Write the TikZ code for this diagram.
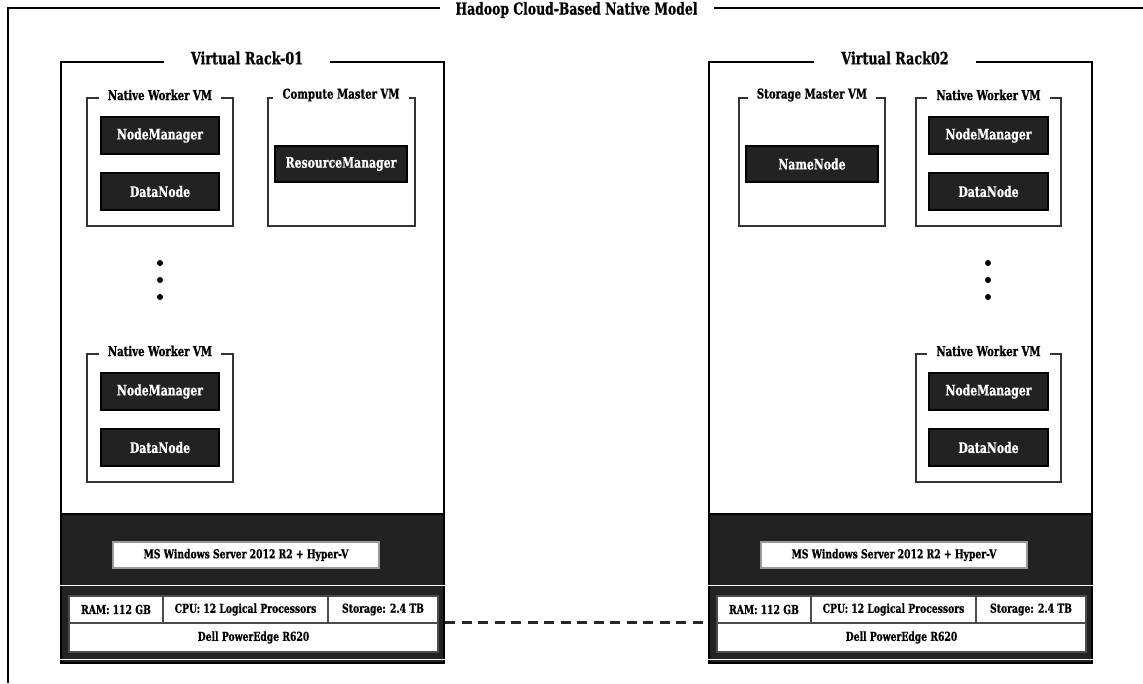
\documentclass[tikz,border=0pt]{standalone}
\usepackage{fontspec}
\newfontfamily\slab{DejaVu Serif}[FakeStretch=0.75,FakeBold=0.8]
\definecolor{darkfill}{HTML}{222222}
\definecolor{vmline}{HTML}{333333}
\begin{document}
\begin{tikzpicture}[x=1pt,y=-1pt,
  every node/.style={font=\slab\bfseries},
  rackbox/.style={draw=black, line width=2pt, inner sep=0pt},
  basebox/.style={fill=darkfill, draw=black, line width=2pt, inner sep=0pt},
  vmbox/.style={draw=vmline, line width=1.6pt, inner sep=0pt},
  svc/.style={draw=black, line width=1.4pt, fill=darkfill, text=white, inner sep=0pt,
    font=\slab\bfseries\fontsize{14.5}{16}\selectfont},
  hwbox/.style={draw=black!70, line width=1.3pt, fill=white, text=black, inner sep=0pt,
    font=\slab\bfseries\fontsize{12.3}{14}\selectfont},
  vmtitle/.style={fill=white, inner xsep=9pt, inner ysep=1pt, font=\slab\bfseries\fontsize{13.5}{15}\selectfont},
  racktitle/.style={fill=white, inner xsep=27pt, inner ysep=1pt, font=\slab\bfseries\fontsize{17}{19}\selectfont},
  maintitle/.style={fill=white, inner xsep=16pt, inner ysep=1pt, font=\slab\bfseries\fontsize{16.5}{18}\selectfont},
  vdot/.style={circle, fill=black, inner sep=0pt, minimum size=6pt},
  dashline/.style={draw=black!85, line width=2.8pt, dash pattern=on 10pt off 6.5pt},
  sepline/.style={draw=white, line width=1.6pt}
]
\useasboundingbox (0,0) rectangle (1143,683);
\fill[white] (0,0) rectangle (1143,683);

% outer frame
\draw[line width=1.8pt, black] (8,683) -- (8,8) -- (1143,8);
\node[maintitle] (title) at (576.5,10) {Hadoop Cloud-Based Native Model};

% ---------------- Rack 1 ----------------
\node[rackbox, minimum width=383pt, minimum height=601pt] (rack1) at (252.5,362.5) {};
\node[basebox, minimum width=383pt, minimum height=149pt] (base1) at (252.5,588.5) {};
\draw[sepline] (base1.west |- 0,585.5) -- (base1.east |- 0,585.5);
\draw[sepline] (base1.west |- 0,659.5) -- (base1.east |- 0,659.5);
\node[racktitle] (rt1) at (247,58) {Virtual Rack-01};

\node[vmbox, minimum width=146pt, minimum height=128pt] (vm1a) at (160,162) {};
\node[vmtitle] (vt1a) at (160,95) {Native Worker VM};
\node[svc, minimum width=118pt, minimum height=37pt] (nm1a) at (160,135.5) {NodeManager};
\node[svc, minimum width=118pt, minimum height=37pt] (dn1a) at (160,191.5) {DataNode};

\node[vmbox, minimum width=147pt, minimum height=128pt] (cm1) at (341.5,162) {};
\node[vmtitle] (ct1) at (341,95) {Compute Master VM};
\node[svc, minimum width=132pt, minimum height=36pt] (rm1) at (341,164) {ResourceManager};

\node[vdot] (d1a) at (160,263) {};
\node[vdot] (d1b) at (160,280) {};
\node[vdot] (d1c) at (160,297) {};

\node[vmbox, minimum width=146pt, minimum height=128pt] (vm1b) at (160,418) {};
\node[vmtitle] (vt1b) at (160,351) {Native Worker VM};
\node[svc, minimum width=118pt, minimum height=37pt] (nm1b) at (160,391.5) {NodeManager};
\node[svc, minimum width=118pt, minimum height=37pt] (dn1b) at (160,447.5) {DataNode};

\node[hwbox, minimum width=266pt, minimum height=26pt, draw=black!40] (hyp1) at (246,555) {MS Windows Server 2012 R2 + Hyper-V};
\node[hwbox, minimum width=94pt, minimum height=27pt] (ram1) at (116,609.5) {RAM: 112 GB};
\node[hwbox, minimum width=165pt, minimum height=27pt] (cpu1) at (245.5,609.5) {CPU: 12 Logical Processors};
\node[hwbox, minimum width=110pt, minimum height=27pt] (sto1) at (383,609.5) {Storage: 2.4 TB};
\node[hwbox, minimum width=369pt, minimum height=29pt] (dell1) at (253.5,637.5) {Dell PowerEdge R620};

% ---------------- Rack 2 ----------------
\node[rackbox, minimum width=383pt, minimum height=601pt] (rack2) at (900.5,362.5) {};
\node[basebox, minimum width=383pt, minimum height=149pt] (base2) at (900.5,588.5) {};
\draw[sepline] (base2.west |- 0,585.5) -- (base2.east |- 0,585.5);
\draw[sepline] (base2.west |- 0,659.5) -- (base2.east |- 0,659.5);
\node[racktitle] (rt2) at (895,58) {Virtual Rack02};

\node[vmbox, minimum width=146pt, minimum height=128pt] (sm2) at (812,162) {};
\node[vmtitle] (st2) at (812,95) {Storage Master VM};
\node[svc, minimum width=132pt, minimum height=36pt] (nn2) at (812,164) {NameNode};

\node[vmbox, minimum width=145pt, minimum height=128pt] (vm2a) at (988.5,162) {};
\node[vmtitle] (vt2a) at (988.5,95) {Native Worker VM};
\node[svc, minimum width=119pt, minimum height=37pt] (nm2a) at (988.5,135.5) {NodeManager};
\node[svc, minimum width=119pt, minimum height=37pt] (dn2a) at (988.5,191.5) {DataNode};

\node[vdot] (d2a) at (988,263) {};
\node[vdot] (d2b) at (988,280) {};
\node[vdot] (d2c) at (988,297) {};

\node[vmbox, minimum width=145pt, minimum height=128pt] (vm2b) at (988.5,418) {};
\node[vmtitle] (vt2b) at (988.5,351) {Native Worker VM};
\node[svc, minimum width=119pt, minimum height=37pt] (nm2b) at (988.5,391.5) {NodeManager};
\node[svc, minimum width=119pt, minimum height=37pt] (dn2b) at (988.5,447.5) {DataNode};

\node[hwbox, minimum width=266pt, minimum height=26pt, draw=black!40] (hyp2) at (894,555) {MS Windows Server 2012 R2 + Hyper-V};
\node[hwbox, minimum width=94pt, minimum height=27pt] (ram2) at (764,609.5) {RAM: 112 GB};
\node[hwbox, minimum width=165pt, minimum height=27pt] (cpu2) at (893.5,609.5) {CPU: 12 Logical Processors};
\node[hwbox, minimum width=110pt, minimum height=27pt] (sto2) at (1031,609.5) {Storage: 2.4 TB};
\node[hwbox, minimum width=369pt, minimum height=29pt] (dell2) at (901.5,637.5) {Dell PowerEdge R620};

% connector between servers
\draw[dashline] (rack1.east |- dell1.north) -- (rack2.west |- dell2.north);
\end{tikzpicture}
\end{document}
